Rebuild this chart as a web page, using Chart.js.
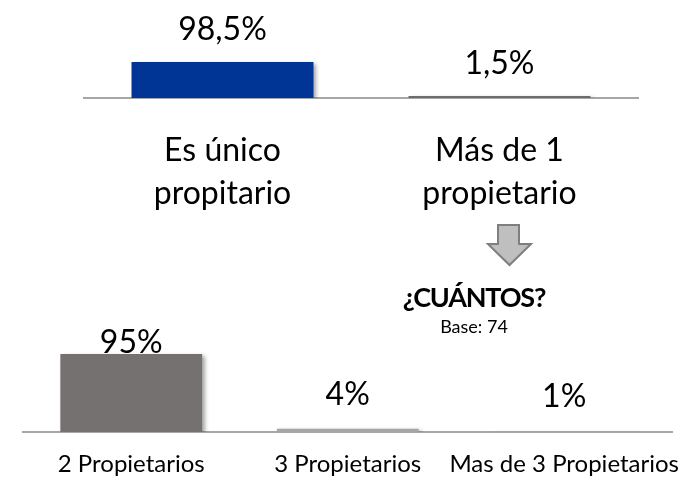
<!DOCTYPE html>
<html>
<head>
<meta charset="utf-8">
<script src="https://cdn.jsdelivr.net/npm/chart.js@4"></script>
<style>
    html, body { margin: 0; padding: 0; background: #fff; }
    body { width: 699px; height: 477px; position: relative; overflow: hidden; font-family: Lato, sans-serif; }
    #topWrap { position: absolute; left: 0; top: 0; width: 699px; height: 240px; }
    #bottomWrap { position: absolute; left: 0; top: 300px; width: 699px; height: 177px; }
    #arrow { position: absolute; left: 486px; top: 223px; }
    .note { position: absolute; left: 374px; width: 200px; text-align: center; color: #000; z-index: 2; }
    #question { top: 280px; font-weight: bold; font-size: 27px; line-height: 34px; letter-spacing: -1.2px; }
    #base { top: 316px; font-size: 18px; line-height: 20px; }
</style>
</head>
<body>
<div id="topWrap"><canvas id="ownerChart"></canvas></div>
<svg id="arrow" width="48" height="45">
    <polygon points="12,2 33,2 33,21 45,21 23.5,42 2,21 12,21" fill="#bfbfbf" stroke="#7f7f7f" stroke-width="2"/>
</svg>
<div id="question" class="note">¿CUÁNTOS?</div>
<div id="base" class="note">Base: 74</div>
<div id="bottomWrap"><canvas id="howManyChart"></canvas></div>

<script>
// Data
const ownerLabels = [['Es único', 'propitario'], ['Más de 1', 'propietario']];
const ownerValues = [98.5, 1.5];

const howManyLabels = ['2 Propietarios', '3 Propietarios', 'Mas de 3 Propietarios'];
const howManyValues = [95, 4, 1];

function pct(v) {
    return String(v).replace('.', ',') + '%';
}

// value labels above bars (kept inside the plot area like Excel does)
const valueLabels = {
    id: 'valueLabels',
    afterDatasetsDraw(chart, args, opts) {
        const { ctx, chartArea } = chart;
        const meta = chart.getDatasetMeta(0);
        const values = chart.data.datasets[0].data;
        ctx.save();
        ctx.font = opts.font;
        ctx.fillStyle = '#000';
        ctx.textAlign = 'center';
        ctx.textBaseline = 'alphabetic';
        meta.data.forEach((bar, i) => {
            const y = Math.max(bar.y - opts.gap, chartArea.top + opts.minTop);
            ctx.fillText(pct(values[i]), bar.x, y);
        });
        ctx.restore();
    }
};

// soft shadow under the bars
const barShadow = {
    id: 'barShadow',
    beforeDatasetsDraw(chart) {
        const ctx = chart.ctx;
        ctx.save();
        ctx.shadowColor = 'rgba(0,0,0,0.35)';
        ctx.shadowBlur = 4;
        ctx.shadowOffsetX = 3;
        ctx.shadowOffsetY = 2;
    },
    afterDatasetsDraw(chart) {
        chart.ctx.restore();
    }
};

function makeChart(id, labels, values, cfg) {
    const ctx = document.getElementById(id).getContext('2d');
    return new Chart(ctx, {
        type: 'bar',
        data: {
            labels: labels,
            datasets: [{
                data: values,
                backgroundColor: cfg.colors,
                borderWidth: 0,
                minBarLength: cfg.minBar,
                categoryPercentage: 1,
                barPercentage: cfg.barPct
            }]
        },
        options: {
            responsive: true,
            maintainAspectRatio: false,
            animation: false,
            events: [],
            layout: { padding: cfg.padding },
            plugins: {
                legend: { display: false },
                tooltip: { enabled: false },
                valueLabels: cfg.valueLabels
            },
            scales: {
                x: {
                    grid: { display: false, drawTicks: false },
                    border: { display: true, color: '#a6a6a6', width: 2 },
                    ticks: {
                        color: '#000',
                        padding: cfg.tickPadding,
                        font: { family: 'Lato', size: cfg.tickSize, lineHeight: cfg.tickLineHeight },
                        maxRotation: 0,
                        autoSkip: false
                    },
                    afterFit: (scale) => { scale.height = cfg.axisHeight; }
                },
                y: {
                    display: false,
                    min: 0,
                    max: cfg.yMax
                }
            }
        },
        plugins: [barShadow, valueLabels]
    });
}

makeChart('ownerChart', ownerLabels, ownerValues, {
    colors: ['#003595', '#6d6d6d'],
    minBar: 2,
    barPct: 0.657,
    padding: { left: 84, right: 61, top: 0, bottom: 0 },
    tickPadding: 31,
    tickSize: 32,
    tickLineHeight: 1.35,
    axisHeight: 142,
    yMax: 268,
    valueLabels: { font: '32px Lato', gap: 22, minTop: 24 }
});

makeChart('howManyChart', howManyLabels, howManyValues, {
    colors: ['#757170', '#a5a5a5', '#a5a5a5'],
    minBar: 0,
    barPct: 0.655,
    padding: { left: 23, right: 12, top: 29, bottom: 0 },
    tickPadding: 18,
    tickSize: 24,
    tickLineHeight: 1.2,
    axisHeight: 45,
    yMax: 125.4,
    valueLabels: { font: '32px Lato', gap: 24, minTop: 24 }
});
</script>
</body>
</html>
